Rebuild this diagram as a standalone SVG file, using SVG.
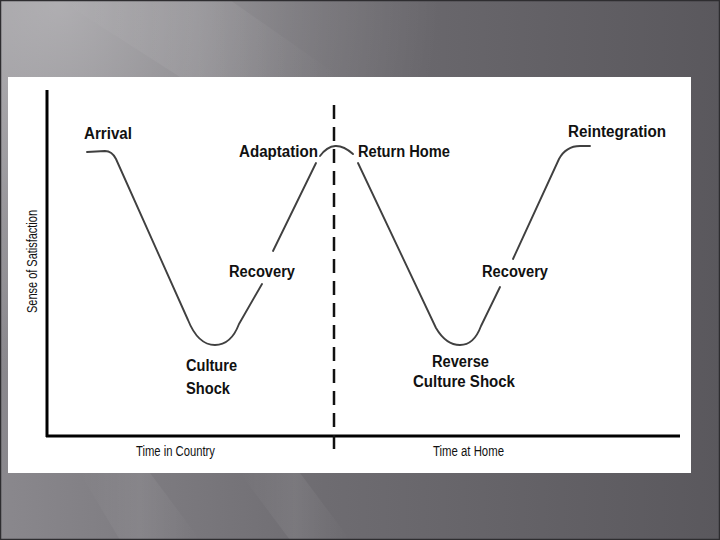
<svg xmlns="http://www.w3.org/2000/svg" width="720" height="540" viewBox="0 0 720 540">
  <defs>
    <linearGradient id="bg" x1="0" y1="0" x2="720" y2="0" gradientUnits="userSpaceOnUse">
      <stop offset="0" stop-color="#8a888d"/>
      <stop offset="0.45" stop-color="#6e6c71"/>
      <stop offset="1" stop-color="#5a585d"/>
    </linearGradient>
    <radialGradient id="glow" cx="60" cy="0" r="380" gradientUnits="userSpaceOnUse">
      <stop offset="0" stop-color="#ffffff" stop-opacity="0.35"/>
      <stop offset="0.6" stop-color="#ffffff" stop-opacity="0.12"/>
      <stop offset="1" stop-color="#ffffff" stop-opacity="0"/>
    </radialGradient>
    <linearGradient id="streak" x1="0" y1="0" x2="1" y2="0">
      <stop offset="0" stop-color="#ffffff" stop-opacity="0"/>
      <stop offset="0.5" stop-color="#ffffff" stop-opacity="0.07"/>
      <stop offset="1" stop-color="#ffffff" stop-opacity="0"/>
    </linearGradient>
    <style>
      .curve { fill: none; stroke: #404040; stroke-width: 1.9; stroke-linecap: round; stroke-linejoin: round; }
      .axis { fill: none; stroke: #000; stroke-width: 3; }
      .dash { fill: none; stroke: #111; stroke-width: 2.5; stroke-dasharray: 14 8; }
      .lbl { font-family: "Liberation Sans", Arial, sans-serif; font-weight: bold; font-size: 16px; fill: #111; }
      .ax { font-family: "Liberation Sans", Arial, sans-serif; font-size: 14px; fill: #111; }
    </style>
  </defs>

  <!-- slide background -->
  <rect x="0" y="0" width="720" height="540" fill="url(#bg)"/>
  <rect x="0" y="0" width="720" height="540" fill="url(#glow)"/>
  <polygon points="60,0 230,0 340,77 180,77" fill="url(#streak)"/>
  <polygon points="80,473 150,473 200,540 120,540" fill="url(#streak)"/>
  <polygon points="240,473 300,473 350,540 290,540" fill="url(#streak)"/>
  <rect x="0.5" y="0.5" width="719" height="539" fill="none" stroke="#2e2d30" stroke-width="1.5"/>

  <!-- white panel -->
  <rect x="8" y="77" width="683" height="396" fill="#ffffff"/>

  <!-- axes and divider -->
  <g id="axes">
    <line class="axis" x1="47" y1="90" x2="47" y2="437"/>
    <line class="axis" x1="46" y1="436" x2="680" y2="436"/>
    <line class="dash" x1="334" y1="105" x2="334" y2="449"/>
  </g>

  <!-- curves -->
  <g id="connectors">
    <path class="curve" d="M87,152 L105,151 Q112,151 116,159 L188,320 Q198,345 215,345 Q231,345 239,324 L262,284"/>
    <path class="curve" d="M273,251 L316,163"/>
    <path class="curve" d="M320,156 Q334,137 353,154"/>
    <path class="curve" d="M358,163 L436,328 Q446,345 460,345 Q474,345 481,326 L500,287"/>
    <path class="curve" d="M513,259 L559,159 Q566,146 580,146 L590,146"/>
  </g>

  <!-- labels -->
  <g id="arrival"><text class="lbl" x="84" y="139" textLength="48" lengthAdjust="spacingAndGlyphs">Arrival</text></g>
  <g id="adaptation"><text class="lbl" x="239" y="157" textLength="79" lengthAdjust="spacingAndGlyphs">Adaptation</text></g>
  <g id="recovery1"><text class="lbl" x="229" y="277" textLength="66" lengthAdjust="spacingAndGlyphs">Recovery</text></g>
  <g id="culture-shock">
    <text class="lbl" x="186" y="371" textLength="51" lengthAdjust="spacingAndGlyphs">Culture</text>
    <text class="lbl" x="186" y="394" textLength="44" lengthAdjust="spacingAndGlyphs">Shock</text>
  </g>
  <g id="return-home"><text class="lbl" x="358" y="157" textLength="92" lengthAdjust="spacingAndGlyphs">Return Home</text></g>
  <g id="reintegration"><text class="lbl" x="568" y="137" textLength="98" lengthAdjust="spacingAndGlyphs">Reintegration</text></g>
  <g id="recovery2"><text class="lbl" x="482" y="277" textLength="66" lengthAdjust="spacingAndGlyphs">Recovery</text></g>
  <g id="reverse-culture-shock">
    <text class="lbl" x="432" y="367" textLength="57" lengthAdjust="spacingAndGlyphs">Reverse</text>
    <text class="lbl" x="413" y="387" textLength="102" lengthAdjust="spacingAndGlyphs">Culture Shock</text>
  </g>

  <g id="axis-labels">
    <text class="ax" x="136" y="456" textLength="79" lengthAdjust="spacingAndGlyphs">Time in Country</text>
    <text class="ax" x="433" y="456" textLength="71" lengthAdjust="spacingAndGlyphs">Time at Home</text>
    <text class="ax" x="0" y="0" font-size="13" textLength="103" lengthAdjust="spacingAndGlyphs" transform="translate(37,313) rotate(-90)">Sense of Satisfaction</text>
  </g>
</svg>
